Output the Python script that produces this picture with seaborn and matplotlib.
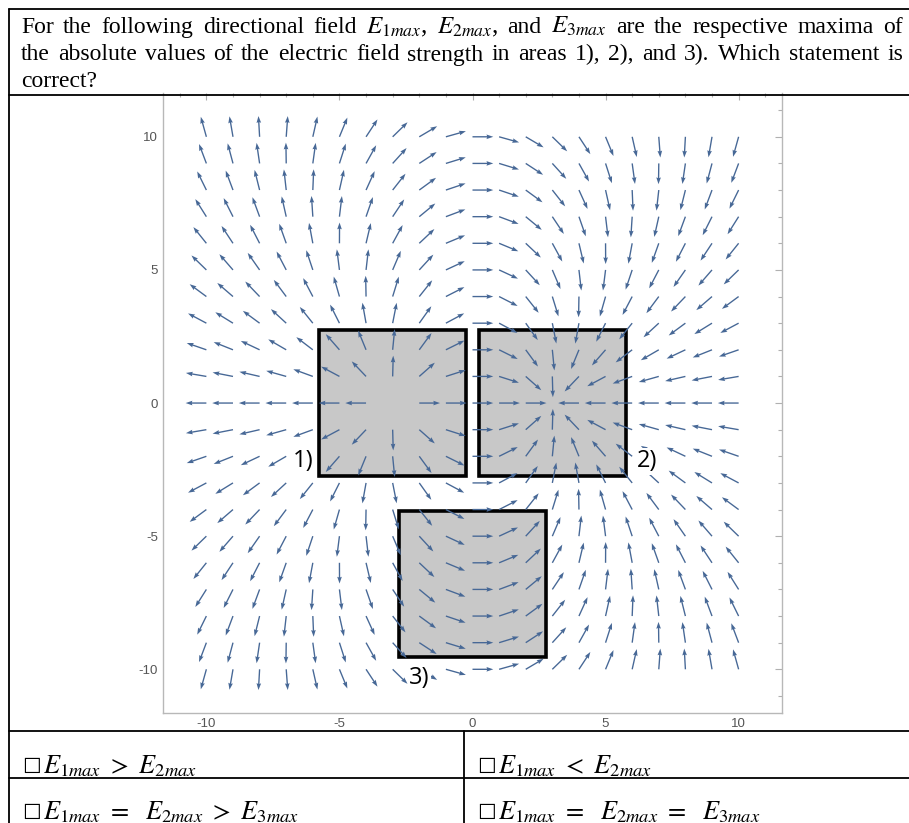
import numpy as np
import pandas as pd
import matplotlib
matplotlib.use('Agg')
import matplotlib.pyplot as plt
import seaborn as sns
from matplotlib.patches import Rectangle
from matplotlib.lines import Line2D
from matplotlib.ticker import MultipleLocator

# point charges that produce the directional field
charge_x = [-3.0, 3.0]
charge_y = [0.0, 0.0]
charge_q = [1.0, -1.0]

# arrow tails sit on the integer grid
grid_x = list(range(-10, 11))
grid_y = list(range(-10, 11))

# the three grey areas (centre and half side)
area_names = ['1)', '2)', '3)']
area_cx = [-3.0, 3.0, 0.0]
area_cy = [0.0, 0.0, -6.8]
area_half = [2.75, 2.75, 2.75]

tick_vals = [-10, -5, 0, 5, 10]

question_lines = [
    ['For', 'the', 'following', 'directional', 'field', r'$E_{1max}$,', r'$E_{2max}$,',
     'and', r'$E_{3max}$', 'are', 'the', 'respective', 'maxima', 'of'],
    ['the', 'absolute', 'values', 'of', 'the', 'electric', 'field', 'strength', 'in',
     'areas', '1),', '2),', 'and', '3).', 'Which', 'statement', 'is'],
    ['correct?'],
]
answers = [
    r'$E_{1max}\ >\ E_{2max}$',
    r'$E_{1max}\ <\ E_{2max}$',
    r'$E_{1max}\ =\ \ E_{2max}\ >\ E_{3max}$',
    r'$E_{1max}\ =\ \ E_{2max}\ =\ \ E_{3max}$',
]

sns.set_theme(style='white')
plt.rcParams.update({
    'font.family': ['Liberation Serif', 'DejaVu Sans'],
    'mathtext.fontset': 'stix',
    'axes.unicode_minus': False,
})

W, H = 909, 823
fig = plt.figure(figsize=(W / 100, H / 100), dpi=100)


def fx(px):
    return px / W


def fy(py):
    return 1 - py / H


# ---- field ----
X, Y = np.meshgrid(grid_x, grid_y)
X = X.astype(float)
Y = Y.astype(float)
Ex = np.zeros_like(X)
Ey = np.zeros_like(Y)
with np.errstate(divide='ignore', invalid='ignore'):
    for cx, cy, q in zip(charge_x, charge_y, charge_q):
        dx, dy = X - cx, Y - cy
        r3 = (dx ** 2 + dy ** 2) ** 1.5
        Ex += q * dx / r3
        Ey += q * dy / r3
    mag = np.hypot(Ex, Ey)
    df = pd.DataFrame({'x': X.ravel(), 'y': Y.ravel(),
                       'u': (Ex / mag).ravel(), 'v': (Ey / mag).ravel()})
df = df.replace([np.inf, -np.inf], np.nan).dropna()

ax = fig.add_axes([fx(163), fy(712.7), 619 / W, 619.3 / H])
lim = 11.63
ax.set_xlim(-lim, lim)
ax.set_ylim(-lim, lim)

for cx, cy, h in zip(area_cx, area_cy, area_half):
    ax.add_patch(Rectangle((cx - h, cy - h), 2 * h, 2 * h, facecolor='#c8c8c8',
                           edgecolor='black', linewidth=2.6, zorder=1))

arrow_len = 0.78
ax.quiver(df['x'], df['y'], df['u'], df['v'], color='#476896',
          angles='xy', scale_units='xy', scale=1 / arrow_len, pivot='tail',
          width=0.0022, headwidth=3.4, headlength=5, headaxislength=4.5, zorder=2)

label_pos = [(-6.38, -2.18), (6.57, -2.18), (-1.99, -10.34)]
for name, (lx, ly) in zip(area_names, label_pos):
    ax.text(lx, ly, name, family='Open Sans', fontsize=17, ha='center', va='center',
            color='black', zorder=3,
            bbox=dict(facecolor='white', edgecolor='none', pad=1.0))

ax.set_xticks(tick_vals)
ax.set_yticks(tick_vals)
ax.set_xticklabels([str(v) for v in tick_vals])
ax.set_yticklabels([str(v) for v in tick_vals])
ax.xaxis.set_minor_locator(MultipleLocator(1))
ax.yaxis.set_minor_locator(MultipleLocator(1))
ax.tick_params(which='both', direction='in', top=True, right=True,
               labeltop=False, labelright=False, color='#b0b0b0', width=0.8)
ax.tick_params(which='major', length=5, pad=3.5, labelsize=9.5, labelcolor='#555555')
ax.tick_params(which='minor', length=3)
for lab in ax.get_xticklabels() + ax.get_yticklabels():
    lab.set_family('Liberation Sans')
for side in ['left', 'bottom', 'right']:
    ax.spines[side].set_color('#b8b8b8')
    ax.spines[side].set_linewidth(1.0)
ax.spines['top'].set_visible(False)
ax.grid(False)

# ---- table lines ----
lw = 1.3
for (x0, y0, x1, y1) in [(9, 9, W, 9), (9, 94.5, W, 94.5), (9, 731, W, 731),
                         (9, 778, W, 778), (9, 9, 9, H), (463.5, 731, 463.5, H)]:
    fig.add_artist(Line2D([fx(x0), fx(x1)], [fy(y0), fy(y1)], color='black',
                          linewidth=lw, zorder=5))

# ---- question text (justified) ----
renderer = fig.canvas.get_renderer()
fs_q, fs_m = 17, 18
baselines = [33, 60.5, 87]
for words, base, justify in zip(question_lines, baselines, [True, True, False]):
    texts = [fig.text(0, fy(base), w, fontsize=fs_m if w.startswith('$') else fs_q,
                      va='baseline', ha='left', color='black')
             for w in words]
    widths = [t.get_window_extent(renderer=renderer).width for t in texts]
    x_left, x_right = 21, 903
    if justify and len(words) > 1:
        gap = (x_right - x_left - sum(widths)) / (len(words) - 1)
    else:
        gap = 6
    x = x_left
    for t, w in zip(texts, widths):
        t.set_x(fx(x))
        x += w + gap

# ---- answer options ----
ans_pos = [(22, 773), (477, 773), (22, 819), (477, 819)]
for txt, (ax0, base) in zip(answers, ans_pos):
    fig.text(fx(ax0), fy(base), '\u2610', family='DejaVu Sans', fontsize=15,
             va='baseline', ha='left', color='black')
    fig.text(fx(ax0 + 21), fy(base), txt, fontsize=19, va='baseline', ha='left', color='black')

fig.savefig('out.png', dpi=100)
